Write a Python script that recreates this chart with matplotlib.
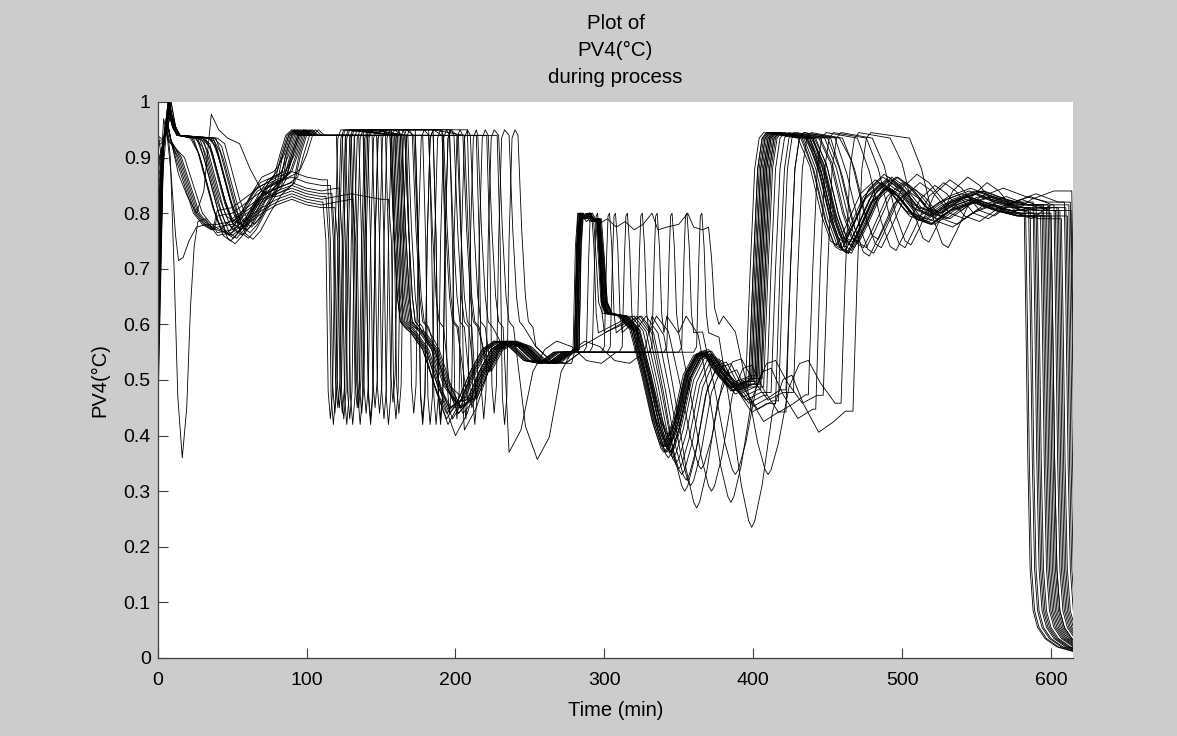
import matplotlib
matplotlib.use("Agg")
import matplotlib.pyplot as plt

plt.rcParams['font.family'] = ['Liberation Sans', 'DejaVu Sans']

# ---------------------------------------------------------------
# Shape pieces (time offsets in min, PV4 values)
# ---------------------------------------------------------------
DESC_DT = [5, 10, 15, 20, 25, 30, 37, 44, 52]
DESC_Y = [0.91, 0.86, 0.81, 0.775, 0.765, 0.78, 0.815, 0.845, 0.855]

EARLY_DT = [0, 6, 12, 18, 24]
EARLY_Y = [0.90, 0.85, 0.80, 0.78, 0.77]

WANDER_T = [40, 50, 60, 70, 80, 90, 100, 110, 120, 130, 140, 150, 160]
WANDER_Y = [0.775, 0.78, 0.80, 0.82, 0.835, 0.845, 0.835, 0.83, 0.835, 0.84, 0.835, 0.83, 0.835]

OSC_T = [176, 184, 192, 200, 208, 216, 224, 232, 242, 252, 262, 272]
OSC_Y = [0.585, 0.555, 0.49, 0.45, 0.465, 0.515, 0.555, 0.57, 0.56, 0.535, 0.53, 0.55]

BUMP_DT = [0, 1.5, 3, 6, 9, 12, 15, 17, 19, 22]
BUMP_Y = [0.555, 0.74, 0.80, 0.79, 0.80, 0.785, 0.79, 0.72, 0.64, 0.62]
SPIKE_DT = [0, 1.5, 2.5, 3.5, 5, 6.5, 8]
SPIKE_Y = [0.56, 0.72, 0.795, 0.80, 0.74, 0.62, 0.585]
LONG_DT = [0, 2, 4, 8, 12, 16, 22, 28, 34, 40, 46, 52, 56, 62, 70, 76, 80, 86, 90, 92, 94, 97]
LONG_Y = [0.55, 0.79, 0.80, 0.785, 0.795, 0.78, 0.79, 0.775, 0.785, 0.77, 0.78, 0.80,
          0.77, 0.775, 0.78, 0.80, 0.775, 0.77, 0.775, 0.72, 0.63, 0.60]

VAL_BASE = 0.615
VAL_DT = [-30, -22, -14, -7, -2, 0, 2, 7, 14, 21, 27, 35, 45, 55, 63, 72, 82]
VAL_F = [0.0, 0.1, 0.45, 0.8, 0.97, 1.0, 0.97, 0.8, 0.45, 0.3, 0.28, 0.42, 0.55, 0.5, 0.45, 0.5, 0.6]

RISE_DT = [0, 3, 6, 9]
RISE_Y = [0.70, 0.88, 0.935, 0.945]

SET_DT = [8, 16, 22, 26, 32, 42, 52, 60, 72, 82, 95, 110, 125, 140, 160]
SET_Y = [0.88, 0.79, 0.745, 0.738, 0.77, 0.83, 0.855, 0.84, 0.80, 0.79, 0.815, 0.83, 0.815, 0.805, 0.81]

END_DT = [0, 1.2, 2.5, 4, 6, 9, 14, 22, 35]
END_Y = [0.80, 0.60, 0.35, 0.16, 0.085, 0.055, 0.035, 0.02, 0.01]

S1_T = [0, 3, 6, 8.5, 11, 13.5, 16.5, 19.5, 22, 24.5, 27, 32]
S1_Y = [0.70, 0.90, 0.965, 0.9, 0.7, 0.47, 0.36, 0.45, 0.63, 0.74, 0.785, 0.79]
S2_T = [0, 3, 6, 9, 12, 14, 17, 21, 26, 33]
S2_Y = [0.48, 0.86, 0.95, 0.87, 0.76, 0.715, 0.72, 0.75, 0.775, 0.78]
S3_T = [0, 3, 6, 9, 14, 20, 26, 31, 36, 41, 47, 55, 62, 70, 78]
S3_Y = [0.60, 0.88, 0.97, 0.93, 0.87, 0.83, 0.80, 0.84, 0.978, 0.95, 0.935, 0.925, 0.88, 0.84, 0.83]

# ---------------------------------------------------------------
# Per-batch timings / levels (one entry per batch)
# ---------------------------------------------------------------
kind = ['A', 'A', 'A', 'B', 'A', 'A', 'A', 'A', 'B', 'A', 'A', 'A', 'A', 'B', 'A',
        'A', 'A', 'A', 'B', 'A', 'A', 'A', 'B', 'A', 'A', 'A', 'B', 'S1', 'S2', 'S3']
y_start = [0.42, 0.55, 0.62, 0.70, 0.75, 0.80, 0.85, 0.88, 0.90, 0.92, 0.50, 0.60, 0.66, 0.72, 0.78,
           0.83, 0.87, 0.93, 0.95, 0.46, 0.58, 0.68, 0.74, 0.81, 0.89, 0.94, 0.64, 0.70, 0.48, 0.60]
t_peak = [8, 7, 8, 6, 9, 8, 7, 9, 5, 8, 8, 9, 7, 6, 8, 9, 8, 7, 4, 8, 8, 9, 6, 8, 7, 8, 6, 6, 6, 6]
peak = [0.99, 1.0, 0.98, 0.97, 1.0, 0.99, 0.98, 1.0, 0.96, 0.99, 0.995, 0.98, 0.99, 0.97, 1.0,
        0.98, 0.99, 1.0, 0.97, 0.99, 1.0, 0.98, 0.97, 0.99, 1.0, 0.99, 0.96, 0.965, 0.95, 0.97]
t_settle = [22, 25, 28, 12, 30, 32, 35, 24, 14, 38, 26, 33, 29, 16, 36,
            40, 27, 31, 18, 34, 23, 37, 15, 39, 26, 30, 13, 0, 0, 0]
t_high = [86, 88, 90, 0, 92, 94, 95, 88, 0, 98, 90, 96, 93, 0, 100,
          104, 91, 95, 0, 97, 87, 102, 0, 99, 89, 94, 0, 0, 0, 0]
desc_dy = [0.0, 0.01, -0.01, 0, 0.015, -0.005, 0.005, -0.015, 0, 0.01, -0.01, 0.02, 0, 0, -0.01,
           0.015, -0.02, 0.005, 0, 0.01, -0.005, 0.0, 0, -0.012, 0.02, 0.008, 0, 0, 0, 0]
lvl = [0, 0, 0, 0.0, 0, 0, 0, 0, 0.02, 0, 0, 0, 0, -0.02, 0,
       0, 0, 0, 0.01, 0, 0, 0, -0.01, 0, 0, 0, 0.03, -0.015, 0.005, -0.005]
dips = [[125], [131], [140, 178], [118], [146], [152], [137, 190], [158], [121, 162], [143],
        [149, 201], [155], [135], [124], [183], [207], [134, 213], [172], [127, 196], [219],
        [129], [226], [116], [233], [178], [190], [119, 143], [136], [122, 187], [160]]
dip_low = [[0.43], [0.42], [0.44, 0.43], [0.42], [0.45], [0.43], [0.44, 0.42], [0.46], [0.45, 0.44], [0.42],
           [0.44, 0.43], [0.42], [0.45], [0.44], [0.42], [0.43], [0.45, 0.42], [0.44], [0.42, 0.44], [0.43],
           [0.43], [0.44], [0.43], [0.42], [0.42], [0.43], [0.44, 0.43], [0.42], [0.45, 0.42], [0.43]]
t_drop = [160, 162, 195, 165, 166, 168, 205, 170, 175, 164, 214, 167, 172, 163, 196,
          219, 226, 186, 209, 233, 161, 240, 168, 246, 210, 203, 160, 170, 200, 176]
shift = [-6, -4, 0, -2, 2, 4, 6, 0, 5, -3, 8, 1, 3, -5, 6,
         9, 36, 4, 7, 55, -4, 12, 0, 12, 5, 6, -6, 2, 3, 2]
osc_low = [0.44, 0.45, 0.46, 0.43, 0.44, 0.47, 0.45, 0.40, 0.44, 0.45, 0.39, 0.46, 0.45, 0.42, 0.41,
           0.44, 0.37, 0.45, 0.38, 0.357, 0.44, 0.50, 0.46, 0.50, 0.42, 0.45, 0.43, 0.45, 0.41, 0.44]
bump_type = ['bump', 'bump', 'bump', 'bump', 'bump', 'bump', 'spike', 'bump', 'spike', 'bump',
             'spike', 'bump', 'bump', 'spike', 'spike', 'long', 'spike', 'bump', 'spike', 'none',
             'bump', 'spike', 'bump', 'spike', 'bump', 'none', 'bump', 'bump', 'spike', 'bump']
t_bump = [280, 281, 282, 280, 283, 279, 288, 282, 300, 280, 312, 281, 283, 322, 332,
          280, 342, 282, 352, 0, 281, 362, 283, 292, 280, 0, 281, 282, 304, 281]
bump_stretch = [0.85, 1.0, 0.9, 1.1, 0.8, 1.05, 1.0, 0.95, 1.0, 1.15, 1.0, 0.88, 1.0, 1.0, 1.0,
                1.0, 1.0, 0.92, 1.0, 1.0, 1.08, 1.0, 0.82, 1.0, 1.12, 1.0, 0.97, 0.87, 1.0, 1.03]
t_val = [340, 342, 343, 339, 344, 341, 348, 343, 352, 341, 358, 344, 345, 365, 372,
         410, 385, 342, 388, 362, 340, 399, 346, 355, 343, 350, 341, 344, 354, 345]
val_low = [0.37, 0.38, 0.36, 0.38, 0.39, 0.37, 0.35, 0.40, 0.33, 0.38, 0.31, 0.37, 0.39, 0.34, 0.30,
           0.33, 0.28, 0.37, 0.33, 0.27, 0.38, 0.235, 0.36, 0.32, 0.38, 0.34, 0.39, 0.37, 0.30, 0.37]
t_rise = [400, 402, 405, 398, 404, 401, 408, 406, 412, 403, 420, 407, 409, 430, 440,
          462, 445, 404, 450, 425, 400, 470, 410, 425, 405, 415, 402, 406, 418, 408]
t_plat = [432, 435, 438, 430, 440, 436, 442, 437, 445, 434, 452, 440, 441, 460, 470,
          492, 476, 438, 480, 458, 433, 505, 444, 455, 438, 448, 436, 439, 450, 440]
set_dy = [0.0, 0.01, -0.01, 0.005, -0.005, 0.015, 0, -0.01, 0.01, 0, -0.015, 0.005, 0.01, 0, -0.005,
          0.01, 0, -0.01, 0.005, 0.015, -0.005, 0, 0.01, -0.01, 0.005, 0, -0.005, 0.01, 0, -0.01]
t_end = [585, 590, 596, 582, 600, 588, 604, 593, 598, 610, 607, 586, 599, 613.5, 605,
         614, 612, 591, 609, 613, 583, 602, 595, 611, 597, 603, 589, 594, 606, 600]

SPECIAL = {'S1': (S1_T, S1_Y), 'S2': (S2_T, S2_Y), 'S3': (S3_T, S3_Y)}
BUMPS = {'bump': (BUMP_DT, BUMP_Y), 'spike': (SPIKE_DT, SPIKE_Y), 'long': (LONG_DT, LONG_Y)}

XTICKS = [0, 100, 200, 300, 400, 500, 600]
YTICKS = [0, 0.1, 0.2, 0.3, 0.4, 0.5, 0.6, 0.7, 0.8, 0.9, 1.0]
YTICK_LABELS = ['0', '0.1', '0.2', '0.3', '0.4', '0.5', '0.6', '0.7', '0.8', '0.9', '1']
TITLE_LINES = ['Plot of', 'PV4(°C)', 'during process']


def build(i):
    T, Y = [], []

    def add(pts):
        for t, y in pts:
            if not T or t > T[-1] + 0.3:
                T.append(t)
                Y.append(y)

    def cut(t0):
        while T and T[-1] >= t0:
            T.pop()
            Y.pop()

    k = kind[i]
    if k == 'A':
        tp, th, ts = t_peak[i], t_high[i], t_settle[i]
        add([(0, y_start[i]), (4, 0.93), (tp, peak[i]), (tp + 3, 0.955), (tp + 6, 0.94), (ts, 0.935)])
        add([(ts + dt, v + desc_dy[i]) for dt, v in zip(DESC_DT, DESC_Y)])
        cut(th - 8)
        add([(th - 8, 0.865 + desc_dy[i]), (th - 4, 0.905), (th, 0.94), (th + 4, 0.95), (th + 8, 0.94)])
    else:
        if k == 'B':
            tp = t_peak[i]
            add([(0, y_start[i]), (2.5, 0.9), (tp, peak[i]), (tp + 3, 0.93)])
            add([(t_settle[i] + dt, v) for dt, v in zip(EARLY_DT, EARLY_Y)])
        else:
            add(list(zip(*SPECIAL[k])))
        add([(t, v + lvl[i]) for t, v in zip(WANDER_T, WANDER_Y)])

    # deep dips while on the high plateau
    for tv, lo in zip(dips[i], dip_low[i]):
        cut(tv - 5)
        add([(tv - 5, Y[-1]), (tv - 3, 0.75), (tv - 1.5, lo + 0.05), (tv, lo),
             (tv + 1.5, lo + 0.05), (tv + 3, 0.75), (tv + 5, 0.935), (tv + 7, 0.95)])

    # step down to the ~0.6 level, then damped swing
    td = t_drop[i]
    cut(td - 4)
    add([(td - 4, 0.94), (td - 1.5, 0.77), (td + 1, 0.65), (td + 3, 0.605), (td + 6, 0.595)])
    osc = list(OSC_Y)
    osc[3] = osc_low[i]
    osc[2] = min(OSC_Y[2], osc_low[i] + 0.06)
    osc[4] = min(OSC_Y[4], osc_low[i] + 0.04)
    add([(t + shift[i], v) for t, v in zip(OSC_T, osc)])

    bt = bump_type[i]
    if bt != 'none':
        tb = t_bump[i]
        cut(tb - 2)
        add([(tb - 2, Y[-1])])
        dts, vals = BUMPS[bt]
        add([(tb + dt * bump_stretch[i], v) for dt, v in zip(dts, vals)])

    tv2, lo2 = t_val[i], val_low[i]
    add([(tv2 + dt, VAL_BASE - f * (VAL_BASE - lo2)) for dt, f in zip(VAL_DT, VAL_F)])

    tr = t_rise[i]
    cut(tr - 3)
    add([(tr - 3, Y[-1])] + [(tr + dt, v) for dt, v in zip(RISE_DT, RISE_Y)])
    tpl = t_plat[i]
    add([(tpl, 0.935)])
    add([(tpl + dt, v + set_dy[i]) for dt, v in zip(SET_DT, SET_Y)])

    te = t_end[i]
    cut(te)
    add([(te, Y[-1])] + [(te + dt, v) for dt, v in zip(END_DT[1:], END_Y[1:])])
    return T, Y


fig = plt.figure(figsize=(11.77, 7.36), dpi=100, facecolor='#cccccc')
ax = fig.add_axes([157.7 / 1177, 1 - 658 / 736, (1073.3 - 157.7) / 1177, (658 - 102) / 736])
ax.set_facecolor('white')

for i in range(len(kind)):
    t, y = build(i)
    ax.plot(t, y, color='black', lw=0.6)

ax.set_xlim(0, 615)
ax.set_ylim(0, 1)
ax.set_xticks(XTICKS)
ax.set_yticks(YTICKS)
ax.set_yticklabels(YTICK_LABELS)
for side in ['top', 'right']:
    ax.spines[side].set_visible(False)
for side in ['left', 'bottom']:
    ax.spines[side].set_color('#404040')
    ax.spines[side].set_linewidth(0.9)
ax.tick_params(direction='in', length=7, width=0.8, color='#404040',
               labelcolor='black', labelsize=14)
ax.tick_params(axis='x', pad=10)
ax.tick_params(axis='y', pad=5)

# three-line title, baselines placed as in the reference
for line, base in zip(TITLE_LINES, [29, 56.5, 83]):
    fig.text(615.5 / 1177, 1 - base / 736, line, ha='center', va='baseline', fontsize=14.8)
fig.text(615.5 / 1177, 1 - 716 / 736, "Time (min)", ha='center', va='baseline', fontsize=14.5)
fig.text(100 / 1177, 1 - 380 / 736, "PV4(°C)", ha='center', va='center',
         rotation=90, fontsize=14.5)

fig.savefig('out.png', dpi=100, facecolor=fig.get_facecolor())
